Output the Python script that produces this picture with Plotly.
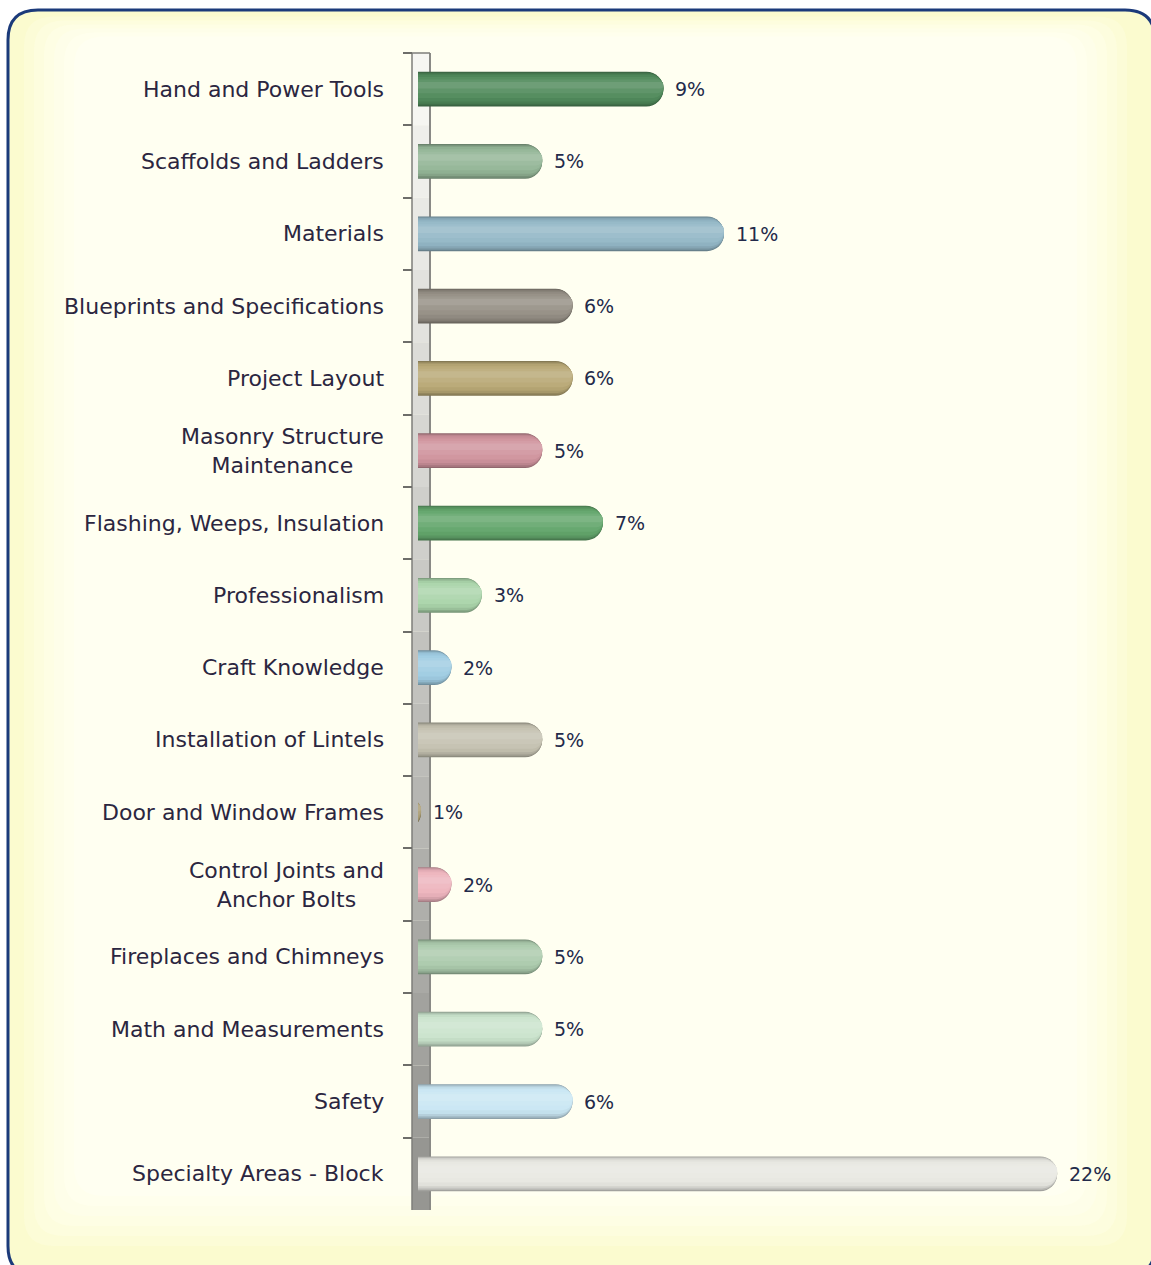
import plotly.graph_objects as go

categories = [
    "Hand and Power Tools", "Scaffolds and Ladders", "Materials",
    "Blueprints and Specifications", "Project Layout",
    "Masonry Structure<br>Maintenance", "Flashing, Weeps, Insulation",
    "Professionalism", "Craft Knowledge", "Installation of Lintels",
    "Door and Window Frames", "Control Joints and<br>Anchor Bolts",
    "Fireplaces and Chimneys", "Math and Measurements", "Safety",
    "Specialty Areas - Block",
]
values = [9, 5, 11, 6, 6, 5, 7, 3, 2, 5, 1, 2, 5, 5, 6, 22]
value_labels = ["9%", "5%", "11%", "6%", "6%", "5%", "7%", "3%", "2%", "5%",
                "1%", "2%", "5%", "5%", "6%", "22%"]

bar_colors = ["#518B5C", "#94B697", "#94B8C7", "#958F85", "#B9A976", "#D0949E",
              "#63A66C", "#ABD5AB", "#A0CDE3", "#C5C2B1", "#AA9D73", "#EEB5BE",
              "#ACCBAD", "#CBE4CD", "#CAE7F4", "#E8E8E2"]

W, H = 1151, 1265
BAND = (1210 - 53) / 16.0  # px per category


def px(x):
    return x / W


def py(y):
    return 1 - y / H


def shade(hexc, f):
    r, g, b = int(hexc[1:3], 16), int(hexc[3:5], 16), int(hexc[5:7], 16)
    if f < 1:
        r, g, b = r * f, g * f, b * f
    else:
        t = f - 1
        r, g, b = r + (255 - r) * t, g + (255 - g) * t, b + (255 - b) * t
    return "#%02x%02x%02x" % (int(r), int(g), int(b))


def rrect(x0, y0, x1, y1, r):
    return (f"M {px(x0 + r)} {py(y0)} L {px(x1 - r)} {py(y0)} "
            f"Q {px(x1)} {py(y0)} {px(x1)} {py(y0 + r)} "
            f"L {px(x1)} {py(y1 - r)} Q {px(x1)} {py(y1)} {px(x1 - r)} {py(y1)} "
            f"L {px(x0 + r)} {py(y1)} Q {px(x0)} {py(y1)} {px(x0)} {py(y1 - r)} "
            f"L {px(x0)} {py(y0 + r)} Q {px(x0)} {py(y0)} {px(x0 + r)} {py(y0)} Z")


fig = go.Figure()

# nested layers imitate the cylinder shading; highlight sits a little above centre
layers = [  # (shade factor, width, centre offset)
    (0.70, 0.48, 0.0),
    (0.80, 0.455, -0.004),
    (0.90, 0.42, -0.008),
    (0.97, 0.37, -0.014),
    (1.03, 0.29, -0.024),
    (1.09, 0.19, -0.038),
    (1.17, 0.09, -0.055),
]
for f, w, c in layers:
    fig.add_trace(go.Bar(y=categories, x=values, orientation="h", width=w, offset=c - w / 2,
                         marker=dict(color=[shade(col, f) for col in bar_colors],
                                     cornerradius=w * BAND / 2, line=dict(width=0)),
                         hoverinfo="skip"))

shapes = []
# background panel with soft gradient
X0, Y0, X1, Y1, R = 8, 10, 1155, 1276, 30
bg_steps = ["#FBFBCF", "#FCFCD7", "#FDFDDE", "#FEFEE4", "#FEFEE9", "#FFFFED", "#FFFFF1"]
shapes.append(dict(type="path", path=rrect(X0, Y0, X1, Y1, R), xref="paper", yref="paper",
                   fillcolor=bg_steps[0], line=dict(color="#1B3A7A", width=3), layer="below"))
for i, c in enumerate(bg_steps[1:], start=1):
    ins = 6 + i * 10
    shapes.append(dict(type="path",
                       path=rrect(X0 + ins, Y0 + ins * 0.4, X1 - ins - 12, Y1 - ins - 14, R),
                       xref="paper", yref="paper", fillcolor=c, line=dict(width=0), layer="below"))

# 3D wall behind the bars
top, bot = 53, 1210
n = 16
for i in range(n):
    t = i / (n - 1)
    g = int(246 - (246 - 150) * t)
    col = "#%02x%02x%02x" % (g, g, max(g - 4, 0))
    y0 = top + (bot - top) * i / n
    y1 = top + (bot - top) * (i + 1) / n
    shapes.append(dict(type="rect", xref="paper", yref="paper", x0=px(412), x1=px(430),
                       y0=py(y1), y1=py(y0), fillcolor=col, line=dict(width=0), layer="below"))
shapes.append(dict(type="line", xref="paper", yref="paper", x0=px(412), x1=px(412),
                   y0=py(bot), y1=py(top), line=dict(color="#7E7E7A", width=1.5), layer="below"))
shapes.append(dict(type="line", xref="paper", yref="paper", x0=px(430), x1=px(430),
                   y0=py(bot), y1=py(top), line=dict(color="#8A8A86", width=2), layer="below"))
shapes.append(dict(type="line", xref="paper", yref="paper", x0=px(405), x1=px(430),
                   y0=py(top), y1=py(top), line=dict(color="#7E7E7A", width=1.5), layer="below"))

annotations = []
for cat in categories:
    annotations.append(dict(x=px(386), xref="paper", y=cat, yref="y", text=cat,
                            xanchor="right", yanchor="middle", align="center", showarrow=False,
                            font=dict(family="DejaVu Sans, sans-serif", size=22,
                                      color="#2B2640")))
for cat, v, lab in zip(categories, values, value_labels):
    annotations.append(dict(x=v, xref="x", y=cat, yref="y", text=lab, xanchor="left",
                            yanchor="middle", xshift=10, showarrow=False,
                            font=dict(family="DejaVu Sans, sans-serif", size=19,
                                      color="#232A4A")))

fig.update_layout(
    width=W, height=H,
    margin=dict(l=0, r=0, t=0, b=0),
    paper_bgcolor="white", plot_bgcolor="rgba(0,0,0,0)",
    barmode="overlay", showlegend=False,
    xaxis=dict(domain=[px(418), px(1148)], range=[0.9, 25.0], visible=False, fixedrange=True),
    yaxis=dict(domain=[py(bot), py(top)], autorange="reversed", type="category",
               anchor="free", position=px(412), ticks="outside", ticklen=9,
               tickcolor="#6E6E6A", tickwidth=1.5, tickson="boundaries",
               showticklabels=False, showgrid=False, zeroline=False, showline=False,
               fixedrange=True),
    shapes=shapes, annotations=annotations,
)

fig.write_html("out.html", config={"displayModeBar": False},
               post_script="document.body.style.margin='0';document.body.style.overflow='hidden';")
